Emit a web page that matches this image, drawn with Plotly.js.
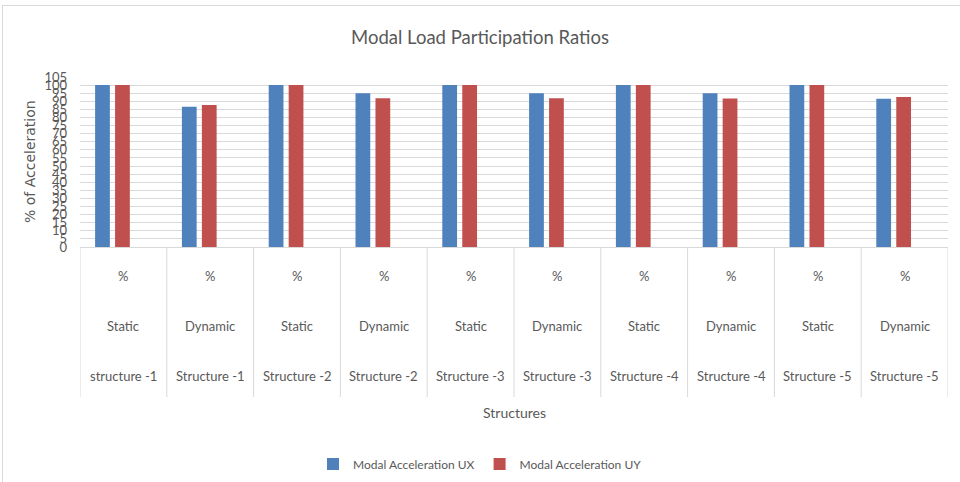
<!DOCTYPE html>
<html>
<head>
<meta charset="utf-8">
<script src="https://cdn.plot.ly/plotly-3.0.1.min.js"></script>
<style>
    html, body { margin: 0; padding: 0; background: #fff; }
    #chart { width: 960px; height: 482px; position: relative; }
    #frame { position: absolute; left: 2px; top: 5px; width: 958px; height: 477px;
             border-top: 1px solid #d9d9d9; border-left: 1px solid #d9d9d9;
             pointer-events: none; z-index: 10; }
</style>
</head>
<body>
<div id="chart"></div>
<div id="frame"></div>
<script>
'use strict';

// Chart data
let categories = ['S1', 'D1', 'S2', 'D2', 'S3', 'D3', 'S4', 'D4', 'S5', 'D5'];
let rowTop = ['%', '%', '%', '%', '%', '%', '%', '%', '%', '%'];
let rowMid = ['Static', 'Dynamic', 'Static', 'Dynamic', 'Static', 'Dynamic', 'Static', 'Dynamic', 'Static', 'Dynamic'];
let rowBot = ['structure -1', 'Structure -1', 'Structure -2', 'Structure -2', 'Structure -3',
              'Structure -3', 'Structure -4', 'Structure -4', 'Structure -5', 'Structure -5'];
let ux = [100, 86.6, 100, 94.9, 100, 95, 100, 95, 100, 91.6];
let uy = [100, 87.7, 100, 91.8, 100, 91.9, 100, 91.7, 100, 92.6];
let yTicks = [0, 5, 10, 15, 20, 25, 30, 35, 40, 45, 50, 55, 60, 65, 70, 75, 80, 85, 90, 95, 100, 105];

let font = 'Lato, sans-serif';
let grey = '#595959';

let traceUX = {
    x: categories,
    y: ux,
    name: 'Modal Acceleration UX',
    type: 'bar',
    width: 0.17,
    offset: -0.326,
    marker: { color: '#4f81bd' }
};

let traceUY = {
    x: categories,
    y: uy,
    name: 'Modal Acceleration UY',
    type: 'bar',
    width: 0.17,
    offset: -0.096,
    marker: { color: '#c0504d' }
};

let data = [traceUX, traceUY];

// plot area is 77..247 px high, so turn a page row into paper units
function py(px) {
    return (247 - px) / 170;
}

// table-like category labels under the axis
let annotations = [];
let rows = [[rowTop, 276], [rowMid, 326], [rowBot, 376]];
for (let r of rows) {
    for (let i = 0; i < categories.length; i++) {
        annotations.push({
            x: categories[i],
            xref: 'x',
            xanchor: 'center',
            y: py(r[1]),
            yref: 'paper',
            yanchor: 'middle',
            text: r[0][i],
            showarrow: false,
            font: { family: font, size: 13, color: grey }
        });
    }
}
annotations.push({
    x: 0.5, xref: 'paper', xanchor: 'center',
    y: py(412), yref: 'paper', yanchor: 'middle',
    text: 'Structures',
    showarrow: false,
    font: { family: font, size: 14, color: grey }
});
annotations.push({
    x: (30 - 80) / 868, xref: 'paper', xanchor: 'center',
    y: py(162), yref: 'paper', yanchor: 'middle',
    text: '% of Acceleration',
    textangle: -90,
    showarrow: false,
    font: { family: 'DejaVu Sans, sans-serif', size: 14, color: grey }
});

let shapes = [];
for (let i = 0; i <= categories.length; i++) {
    shapes.push({
        type: 'line',
        xref: 'x', yref: 'paper',
        x0: i - 0.5, x1: i - 0.5,
        y0: 0, y1: py(397),
        line: { color: '#d9d9d9', width: 1 }
    });
}

let layout = {
    width: 960,
    height: 482,
    margin: { l: 80, r: 12, t: 77, b: 235, autoexpand: false },
    paper_bgcolor: '#ffffff',
    plot_bgcolor: '#ffffff',
    title: {
        text: 'Modal Load Participation Ratios',
        font: { family: font, size: 18.5, color: grey },
        x: 0.5,
        y: 1 - 38 / 482,
        xanchor: 'center',
        yanchor: 'middle'
    },
    xaxis: {
        showticklabels: false,
        showgrid: false,
        zeroline: false,
        showline: true,
        linecolor: '#d9d9d9',
        range: [-0.5, 9.5],
        fixedrange: true
    },
    yaxis: {
        range: [0, 105],
        tickvals: yTicks,
        ticktext: yTicks.map(String),
        showgrid: true,
        gridcolor: '#d9d9d9',
        zeroline: false,
        showline: false,
        ticks: '',
        ticklabelstandoff: 12,
        tickfont: { family: font, size: 13, color: grey }
    },
    showlegend: true,
    legend: {
        orientation: 'h',
        x: 0.5,
        xanchor: 'center',
        xref: 'container',
        y: 1 - 464 / 482,
        yref: 'container',
        yanchor: 'middle',
        font: { family: font, size: 12, color: grey },
        itemwidth: 30
    },
    annotations: annotations,
    shapes: shapes
};

let config = {
    displayModeBar: false,
    staticPlot: true
};

Plotly.newPlot('chart', data, layout, config);
</script>
</body>
</html>
